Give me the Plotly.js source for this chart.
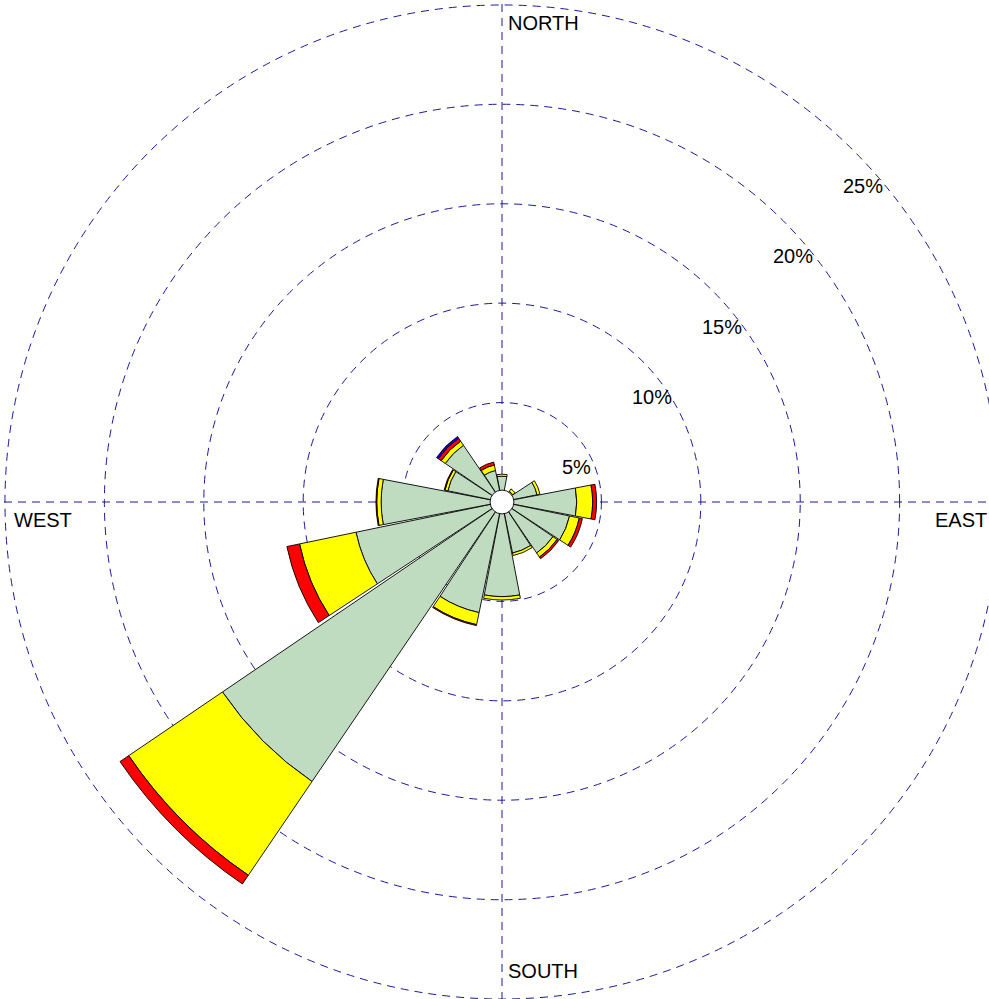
<!DOCTYPE html>
<html>
<head>
<meta charset="utf-8">
<script src="https://cdn.plot.ly/plotly-3.0.1.min.js"></script>
<style>html,body{margin:0;padding:0;overflow:hidden;background:#fff;}</style>
</head>
<body>
<div id="chart" style="width:1004px;height:1004px;"></div>
<script>
// ---- data ----
const directions = ['N','NNE','NE','ENE','E','ESE','SE','SSE','S','SSW','SW','WSW','W','WNW','NW','NNW'];
const bearings   = [0,22.5,45,67.5,90,112.5,135,157.5,180,202.5,225,247.5,270,292.5,315,337.5];
// percentage of time per speed band (stacked segments)
const band1 = [1.30,0.30,0.65,1.80,3.76,3.47,3.10,2.62,4.76,5.68,17.00,7.50,6.08,2.78,3.45,1.62];
const band2 = [0.10,0.00,0.15,0.15,0.80,0.50,0.25,0.13,0.17,0.62, 5.70,2.90,0.22,0.15,0.25,0.28];
const band3 = [0.00,0.00,0.00,0.00,0.20,0.16,0.10,0.00,0.00,0.05, 0.53,0.65,0.04,0.04,0.18,0.15];
const band4 = [0.00,0.00,0.00,0.00,0.00,0.00,0.00,0.00,0.00,0.00, 0.00,0.00,0.00,0.00,0.10,0.00];
const bandColors = ['#c0dcc0','#ffff00','#ff0000','#0000ff'];
const calm = 0.6;
const radialTicks = [5,10,15,20,25];
const radialTickText = ['5%','10%','15%','20%','25%'];
const compassText = ['NORTH','EAST','SOUTH','WEST'];

const R = 25.25;
const gridColor = '#1a1a95';
const font = {family:'Liberation Sans, Arial, sans-serif', size:20, color:'#000'};

const traces = [band1,band2,band3,band4].map((b,i)=>({
  type:'barpolar',
  r: b.map(v => v > 0 ? v : null),
  theta: bearings,
  width: bearings.map(()=>21.6),
  marker:{color:bandColors[i], line:{color:'#000', width:0.9}},
  hoverinfo:'skip',
  showlegend:false
}));
traces.push({type:'scatter', x:[], y:[], xaxis:'x', yaxis:'y', showlegend:false, hoverinfo:'skip'});

const annotations = [];
const c45 = Math.SQRT1_2;
radialTicks.forEach((t,i)=>{
  annotations.push({xref:'x', yref:'y', x:t*c45-0.63, y:t*c45-1.79, text:radialTickText[i],
    showarrow:false, xanchor:'left', yanchor:'middle', font:font});
});
annotations.push({xref:'x', yref:'y', x:0.2, y:24.07, text:compassText[0], showarrow:false, xanchor:'left', yanchor:'middle', font:font});
annotations.push({xref:'x', yref:'y', x:21.68, y:-0.9, text:compassText[1], showarrow:false, xanchor:'left', yanchor:'middle', font:font});
annotations.push({xref:'x', yref:'y', x:0.2, y:-23.59, text:compassText[2], showarrow:false, xanchor:'left', yanchor:'middle', font:font});
annotations.push({xref:'x', yref:'y', x:-24.65, y:-0.9, text:compassText[3], showarrow:false, xanchor:'left', yanchor:'middle', font:font});

const layout = {
  width:1004, height:1004,
  margin:{l:0,r:0,t:0,b:0,pad:0},
  paper_bgcolor:'#fff', plot_bgcolor:'rgba(0,0,0,0)',
  showlegend:false,
  xaxis:{range:[-R,R], visible:false, domain:[0,1], fixedrange:true},
  yaxis:{range:[-R,R], visible:false, domain:[0,1], fixedrange:true},
  polar:{
    domain:{x:[0,1], y:[0,1]},
    bgcolor:'rgba(0,0,0,0)',
    barmode:'stack',
    radialaxis:{range:[0,R], tickmode:'array', tickvals:radialTicks, showticklabels:false, ticks:'',
      showline:false, gridcolor:gridColor, gridwidth:1, griddash:'8px,6px'},
    angularaxis:{rotation:90, direction:'clockwise', tickmode:'array', tickvals:[0,90,180,270],
      showticklabels:false, ticks:'', showline:false, gridcolor:gridColor, gridwidth:1, griddash:'8px,6px'}
  },
  shapes:[{type:'circle', xref:'x', yref:'y', x0:-calm, x1:calm, y0:-calm, y1:calm,
    fillcolor:'#fff', line:{color:'#000', width:0.9}, layer:'above'}],
  annotations:annotations
};
Plotly.newPlot('chart', traces, layout, {staticPlot:true, displayModeBar:false});
</script>
</body>
</html>
